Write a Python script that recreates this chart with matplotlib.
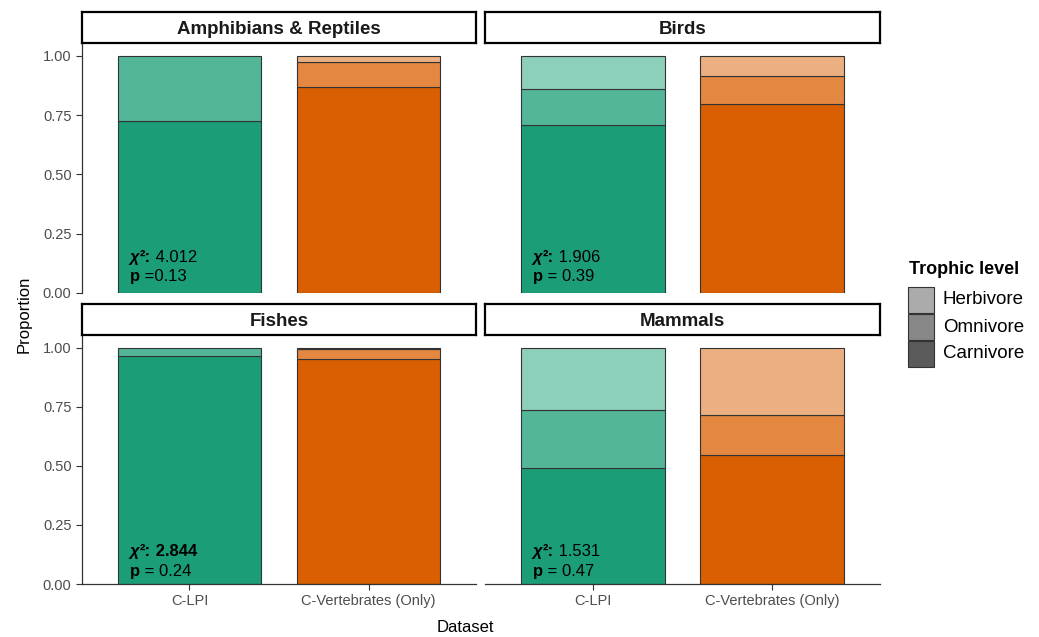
import matplotlib
matplotlib.use("Agg")
import matplotlib.pyplot as plt
from matplotlib.patches import Rectangle
import numpy as np

plt.rcParams['font.family'] = ['Liberation Sans', 'DejaVu Sans']

panels = ["Amphibians & Reptiles", "Birds", "Fishes", "Mammals"]
datasets = ["C-LPI", "C-Vertebrates (Only)"]
levels = ["Carnivore", "Omnivore", "Herbivore"]  # bottom to top
# proportions [C-LPI, C-Vertebrates] per level
carnivore = {"Amphibians & Reptiles": [0.726, 0.869], "Birds": [0.709, 0.797],
             "Fishes": [0.966, 0.953], "Mammals": [0.492, 0.547]}
omnivore = {"Amphibians & Reptiles": [0.274, 0.106], "Birds": [0.152, 0.119],
            "Fishes": [0.034, 0.043], "Mammals": [0.245, 0.169]}
herbivore = {"Amphibians & Reptiles": [0.0, 0.025], "Birds": [0.139, 0.084],
             "Fishes": [0.0, 0.004], "Mammals": [0.263, 0.284]}
chi2 = {"Amphibians & Reptiles": "4.012", "Birds": "1.906", "Fishes": "2.844", "Mammals": "1.531"}
chi2_bold = {"Amphibians & Reptiles": False, "Birds": False, "Fishes": True, "Mammals": False}
pvals = {"Amphibians & Reptiles": " =0.13", "Birds": " = 0.39", "Fishes": " = 0.24", "Mammals": " = 0.47"}

base_colors = ["#1B9E77", "#D95F02"]
alphas = {"Carnivore": 1.0, "Omnivore": 0.75, "Herbivore": 0.5}
legend_colors = {"Herbivore": "#ABABAB", "Omnivore": "#878787", "Carnivore": "#5A5A5A"}

W, H = 1039, 637
fig = plt.figure(figsize=(W / 100, H / 100), dpi=100)

def fx(px):
    return px / W

def fy(py):
    return 1 - py / H

layout = {
    "Amphibians & Reptiles": (82, 476, 44, 293, 12, 43),
    "Birds": (485, 880, 44, 293, 12, 43),
    "Fishes": (82, 476, 336, 584, 304, 335),
    "Mammals": (485, 880, 336, 584, 304, 335),
}

def blend(hexc, a):
    c = np.array(matplotlib.colors.to_rgb(hexc))
    return tuple(c * a + (1 - a))

for i, name in enumerate(panels):
    x0, x1, ytop, ybot, st, sb = layout[name]
    ax = fig.add_axes([fx(x0), fy(ybot), fx(x1 - x0), (ybot - ytop) / H])
    xs = np.arange(1, len(datasets) + 1)
    bottoms = np.zeros(len(datasets))
    for lev, src in zip(levels, [carnivore, omnivore, herbivore]):
        vals = np.array(src[name])
        for j in range(len(datasets)):
            if vals[j] <= 0:
                continue
            ax.bar(xs[j], vals[j], bottom=bottoms[j], width=0.8,
                   color=blend(base_colors[j], alphas[lev]),
                   edgecolor="#333333", linewidth=0.8)
        bottoms += vals
    ax.set_xlim(0.4, 2.6)
    ax.set_ylim(0, 1.05)
    for s in ["top", "right"]:
        ax.spines[s].set_visible(False)
    ax.spines["left"].set_color("#333333")
    ax.spines["bottom"].set_color("#333333")
    ax.spines["left"].set_linewidth(0.9)
    ax.spines["bottom"].set_linewidth(0.9)
    ax.set_yticks([0, 0.25, 0.5, 0.75, 1.0])
    ax.set_xticks(xs)
    ax.tick_params(colors="#333333", labelcolor="#4D4D4D", labelsize=10.5, length=4, width=0.8)
    if i % 2 == 0:
        ax.set_yticklabels(["0.00", "0.25", "0.50", "0.75", "1.00"])
    else:
        ax.spines["left"].set_visible(False)
        ax.tick_params(axis="y", left=False, labelleft=False)
    if i >= 2:
        ax.set_xticklabels(datasets)
    else:
        ax.spines["bottom"].set_visible(False)
        ax.tick_params(axis="x", bottom=False, labelbottom=False)
    # annotation
    top_y = 0.148 if i < 2 else 0.136
    bot_y = 0.068 if i < 2 else 0.055
    t1 = ax.text(0.665, top_y, "χ", fontsize=12, fontweight="bold", fontstyle="italic",
                 va="center", ha="left", color="black")
    t2 = ax.annotate("²:", xy=(1, 0), xycoords=t1, xytext=(0.5, 0), textcoords="offset points",
                     fontsize=12, fontweight="bold", va="bottom", ha="left")
    ax.annotate(" " + chi2[name], xy=(1, 0), xycoords=t2, fontsize=12,
                fontweight="bold" if chi2_bold[name] else "normal", va="bottom", ha="left")
    t3 = ax.text(0.665, bot_y, "p", fontsize=12, fontweight="bold", va="center", ha="left")
    ax.annotate(pvals[name], xy=(1, 0), xycoords=t3, fontsize=12, va="bottom", ha="left")
    # strip
    sax = fig.add_axes([fx(x0), fy(sb), fx(x1 - x0), (sb - st) / H])
    sax.set_xticks([]); sax.set_yticks([])
    for s in sax.spines.values():
        s.set_linewidth(1.6)
        s.set_color("black")
    sax.text(0.5, 0.45, name, ha="center", va="center", fontsize=13.5, fontweight="bold",
             color="#1A1A1A", transform=sax.transAxes)

fig.text(fx(465), fy(628), "Dataset", ha="center", va="center", fontsize=12, color="black")
fig.text(fx(24), fy(314), "Proportion", ha="center", va="center", rotation=90, fontsize=12, color="black")

# legend
fig.text(fx(909), fy(270), "Trophic level", ha="left", va="center", fontsize=13, fontweight="bold")
for k, lev in enumerate(["Herbivore", "Omnivore", "Carnivore"]):
    ytop = 287 + k * 27
    fig.patches.append(Rectangle((fx(908), fy(ytop + 26)), fx(26), 26 / H,
                                 transform=fig.transFigure, facecolor=legend_colors[lev],
                                 edgecolor="#333333", linewidth=0.8))
    fig.text(fx(943), fy(ytop + 13), lev, ha="left", va="center", fontsize=13.5, color="black")

fig.savefig("out.png", dpi=100)
